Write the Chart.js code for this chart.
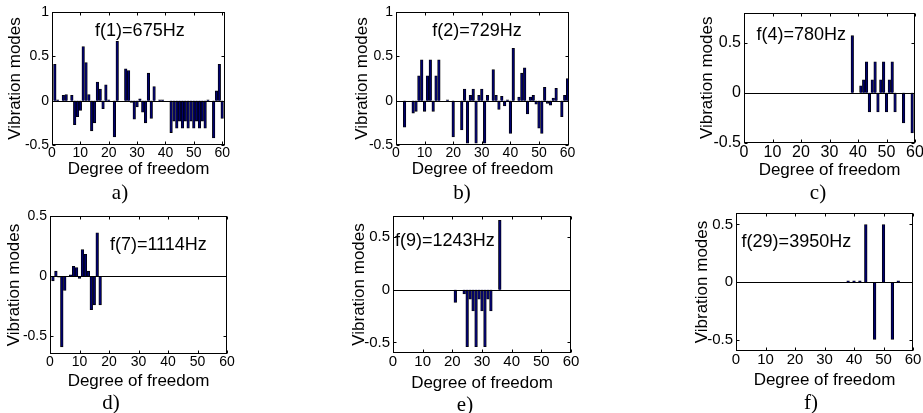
<!DOCTYPE html>
<html>
<head>
<meta charset="utf-8">
<script src="https://cdn.jsdelivr.net/npm/chart.js@4.4.0/dist/chart.umd.min.js"></script>
<style>
  html, body { margin: 0; padding: 0; background: #fff; width: 923px; height: 413px; overflow: hidden; }
  canvas { position: absolute; }
  .cap { position: absolute; font-family: "Liberation Serif", "Times New Roman", serif; font-size: 21px; color: #000; transform: translate(-50%, -50%); }
</style>
</head>
<body>
<canvas id="pa"></canvas>
<canvas id="pb"></canvas>
<canvas id="pc"></canvas>
<canvas id="pd"></canvas>
<canvas id="pe"></canvas>
<canvas id="pf"></canvas>
<div class="cap" style="left:120px;top:192px">a)</div>
<div class="cap" style="left:462px;top:192px">b)</div>
<div class="cap" style="left:818px;top:192px">c)</div>
<div class="cap" style="left:111px;top:402px">d)</div>
<div class="cap" style="left:465px;top:404px">e)</div>
<div class="cap" style="left:811px;top:402px">f)</div>
<script>
// degrees of freedom 1..60
const dof = Array.from({ length: 60 }, (_, i) => i + 1);
const xTicks = [0, 10, 20, 30, 40, 50, 60];

const modeA = [
  0.41, 0.01, 0, 0.06, 0.07, 0, 0.06, -0.27, -0.18, -0.11,
  0.61, 0.43, 0.07, -0.34, -0.25, 0.21, 0.13, -0.09, 0.18, 0.01,
  0, -0.41, 0.67, 0, 0, 0.36, 0.34, -0.02, -0.21, -0.07,
  0.02, -0.13, -0.25, 0.31, -0.2, 0.16, 0, 0.01, 0.01, 0,
  0, -0.36, -0.23, -0.31, -0.23, -0.31, -0.23, -0.31, -0.23, -0.31,
  -0.23, -0.31, -0.23, -0.31, 0.01, 0, -0.42, 0.11, 0.41, -0.2
];
const modeB = [
  0, 0, -0.3, 0, 0, -0.14, -0.12, 0.28, 0.46, -0.12,
  0.28, 0.46, -0.12, 0.28, 0.46, 0, 0, 0.01, 0, -0.41,
  0, 0, -0.33, 0.13, -0.48, 0.06, 0.13, -0.48, 0.06, 0.13,
  -0.48, 0.06, 0, 0.35, 0.06, -0.1, 0.05, -0.06, 0.01, -0.37,
  0.59, 0, 0.04, 0.31, 0.37, -0.15, 0.04, 0.06, -0.04, -0.31,
  -0.37, 0.15, -0.03, -0.05, 0.03, 0.14, 0, -0.18, 0.06, 0.25
];
const modeC = [
  0, 0, 0, 0, 0, 0, 0, 0, 0, 0,
  0, 0, 0, 0, 0, 0, 0, 0, 0, 0,
  0, 0, 0, 0, 0, 0, 0, 0, 0, 0,
  0, 0, 0, 0, 0, 0, 0, 0.57, 0, 0,
  0.07, 0.13, 0.31, -0.19, 0.13, 0.31, -0.19, 0.13, 0.31, -0.19,
  0.13, 0.31, -0.19, 0, 0, -0.3, 0, 0, -0.4, 0
];
const modeD = [
  -0.04, 0.04, -0.01, -0.59, -0.12, 0, 0.01, 0.08, 0.07, -0.02,
  0.22, 0.18, 0.04, -0.28, -0.24, 0.36, -0.24, 0, 0, 0,
  0, 0, 0, 0, 0, 0, 0, 0, 0, 0,
  0, 0, 0, 0, 0, 0, 0, 0, 0, 0,
  0, 0, 0, 0, 0, 0, 0, 0, 0, 0,
  0, 0, 0, 0, 0, 0, 0, 0, 0, 0
];
const modeE = [
  0, 0, 0, 0, 0, 0, 0, 0, 0, 0,
  0, 0, 0, 0, 0, 0, 0, 0, 0, 0,
  -0.12, 0, 0, -0.04, -0.54, -0.09, -0.2, -0.54, -0.09, -0.2,
  -0.54, -0.09, -0.2, 0, 0, 0.66, 0, 0, 0, 0,
  0, 0, 0, 0, 0, 0, 0, 0, 0, 0,
  0, 0, 0, 0, 0, 0, 0, 0, 0, 0
];
const modeF = [
  0, 0, 0, 0, 0, 0, 0, 0, 0, 0,
  0, 0, 0, 0, 0, 0, 0, 0, 0, 0,
  0, 0, 0, 0, 0, 0, 0, 0, 0, 0,
  0, 0, 0, 0, 0, 0, 0, 0.01, 0, 0.01,
  0, 0.01, 0, 0.5, 0, 0, -0.5, 0, 0, 0.5,
  0, 0, -0.5, 0, 0.01, 0, 0, 0, 0, 0
];

const freqLabels = ['f(1)=675Hz', 'f(2)=729Hz', 'f(4)=780Hz', 'f(7)=1114Hz', 'f(9)=1243Hz', 'f(29)=3950Hz'];
const yTicksA = [-0.5, 0, 0.5, 1];
const yTicksB = [-0.5, 0, 0.5, 1];
const yTicksC = [-0.5, 0, 0.5];
const yTicksD = [-0.5, 0, 0.5];
const yTicksE = [-0.5, 0, 0.5];
const yTicksF = [-0.5, 0, 0.5];

Chart.defaults.font.family = '"Liberation Sans", Arial, sans-serif';
Chart.defaults.color = '#000';

const TITLE_SIZE = 17;

// box, inner tick marks, zero baseline and the frequency note
const frame = {
  id: 'frame',
  afterDatasetsDraw(chart, args, opts) {
    const { ctx, chartArea: a, scales: { x, y } } = chart;
    const L = Math.round(a.left) + 0.5, R = Math.round(a.right) - 0.5;
    const T = Math.round(a.top) + 0.5, B = Math.round(a.bottom) - 0.5;
    ctx.save();
    ctx.strokeStyle = '#000';
    ctx.lineWidth = 1;
    const y0 = Math.round(y.getPixelForValue(0)) + 0.5;
    ctx.beginPath();
    ctx.moveTo(L, y0); ctx.lineTo(R, y0);
    x.ticks.forEach(t => {
      const px = Math.round(x.getPixelForValue(t.value)) + 0.5;
      ctx.moveTo(px, B); ctx.lineTo(px, B - 3);
      ctx.moveTo(px, T); ctx.lineTo(px, T + 3);
    });
    y.ticks.forEach(t => {
      const py = Math.round(y.getPixelForValue(t.value)) + 0.5;
      ctx.moveTo(L, py); ctx.lineTo(L + 3, py);
      ctx.moveTo(R, py); ctx.lineTo(R - 3, py);
    });
    ctx.stroke();
    ctx.strokeRect(L, T, R - L, B - T);
    ctx.fillStyle = '#000';
    ctx.font = '18px "Liberation Sans", Arial, sans-serif';
    ctx.textAlign = 'left';
    ctx.textBaseline = 'middle';
    ctx.fillText(opts.text, x.getPixelForValue(opts.x), y.getPixelForValue(opts.y));
    ctx.restore();
  }
};

function makePanel(p) {
  const padTop = 12, padRight = 14;
  const half = TITLE_SIZE * 1.2 / 2;
  const left = Math.round(p.yTitleX - half);
  const top = p.area.t - padTop;
  const width = p.area.r + padRight - left;
  const bottom = Math.round(p.xTitleY + half);
  const height = bottom - top;
  const yWidth = p.area.l - left;
  const xHeight = bottom - p.area.b;
  // bar width: 90% of one degree-of-freedom step
  const step = (p.area.r - p.area.l) / p.xMax;

  const cv = document.getElementById(p.id);
  cv.style.left = left + 'px';
  cv.style.top = top + 'px';
  cv.style.width = width + 'px';
  cv.style.height = height + 'px';
  cv.width = width;
  cv.height = height;

  new Chart(cv, {
    type: 'bar',
    data: {
      datasets: [{
        data: dof.map((d, i) => ({ x: d, y: p.values[i] })),
        backgroundColor: '#00006e',
        borderColor: '#000000',
        borderWidth: 0.8,
        barThickness: step * 0.9,
      }],
    },
    options: {
      responsive: false,
      animation: false,
      devicePixelRatio: 1,
      layout: { padding: { top: padTop, right: padRight, left: 0, bottom: 0 } },
      plugins: {
        legend: { display: false },
        tooltip: { enabled: false },
        frame: { text: p.note, x: p.noteAt[0], y: p.noteAt[1] },
      },
      scales: {
        x: {
          type: 'linear', min: 0, max: p.xMax, offset: false,
          afterBuildTicks: s => { s.ticks = xTicks.map(v => ({ value: v })); },
          afterFit: s => { s.height = xHeight; },
          grid: { display: false, drawTicks: false },
          border: { display: false },
          ticks: { padding: 0, maxRotation: 0, autoSkip: false, font: { size: p.tickSize }, callback: v => String(v) },
          title: { display: true, text: 'Degree of freedom', font: { size: TITLE_SIZE }, padding: 0 },
        },
        y: {
          min: p.yMin, max: p.yMax,
          afterBuildTicks: s => { s.ticks = p.yTicks.map(v => ({ value: v })); },
          afterFit: s => { s.width = yWidth; },
          grid: { display: false, drawTicks: false },
          border: { display: false },
          ticks: { padding: 3, font: { size: p.tickSize }, callback: v => String(v) },
          title: { display: true, text: 'Vibration modes', font: { size: TITLE_SIZE }, padding: 0 },
        },
      },
    },
    plugins: [frame],
  });
}

makePanel({ id: 'pa', values: modeA, note: freqLabels[0], noteAt: [15.2, 0.79], yTicks: yTicksA,
  yMin: -0.5, yMax: 1, xMax: 61, area: { l: 52, t: 12, r: 225, b: 145 }, yTitleX: 15, xTitleY: 170, tickSize: 14 });
makePanel({ id: 'pb', values: modeB, note: freqLabels[1], noteAt: [12.7, 0.78], yTicks: yTicksB,
  yMin: -0.5, yMax: 1, xMax: 60.5, area: { l: 396, t: 12, r: 569, b: 145 }, yTitleX: 362, xTitleY: 170, tickSize: 14 });
makePanel({ id: 'pc', values: modeC, note: freqLabels[2], noteAt: [4.4, 0.58], yTicks: yTicksC,
  yMin: -0.5, yMax: 0.8, xMax: 60, area: { l: 744, t: 12, r: 915, b: 143 }, yTitleX: 707, xTitleY: 171, tickSize: 16 });
makePanel({ id: 'pd', values: modeD, note: freqLabels[3], noteAt: [20.3, 0.26], yTicks: yTicksD,
  yMin: -0.65, yMax: 0.5, xMax: 60, area: { l: 50, t: 216, r: 227, b: 354 }, yTitleX: 14, xTitleY: 382, tickSize: 14 });
makePanel({ id: 'pe', values: modeE, note: freqLabels[4], noteAt: [0.7, 0.465], yTicks: yTicksE,
  yMin: -0.6, yMax: 0.7, xMax: 60, area: { l: 393, t: 216, r: 571, b: 353 }, yTitleX: 359, xTitleY: 384, tickSize: 15 });
makePanel({ id: 'pf', values: modeF, note: freqLabels[5], noteAt: [1.9, 0.35], yTicks: yTicksF,
  yMin: -0.6, yMax: 0.6, xMax: 60, area: { l: 736, t: 213, r: 913, b: 351 }, yTitleX: 702, xTitleY: 381, tickSize: 15 });
</script>
</body>
</html>
